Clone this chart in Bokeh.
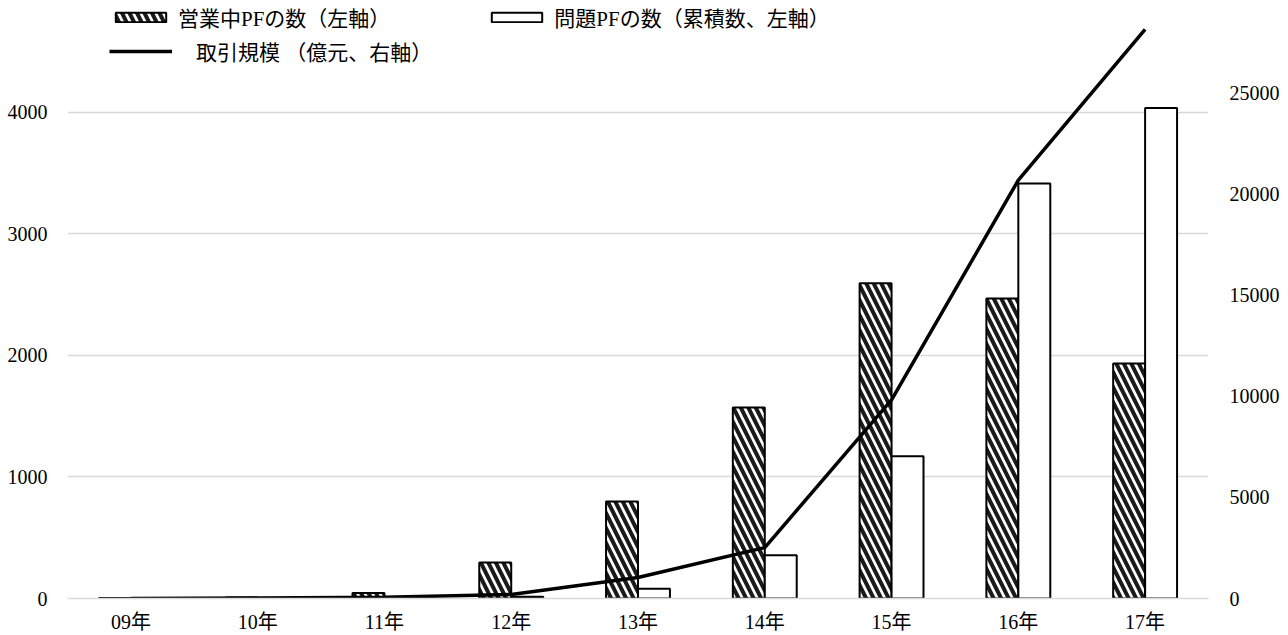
from bokeh.plotting import figure
from bokeh.models import (ColumnDataSource, FactorRange, Range1d, LinearAxis, FixedTicker,
                          Legend, LegendItem)
from bokeh.transform import dodge
from bokeh.embed import file_html
from bokeh.resources import INLINE

years = ["09年", "10年", "11年", "12年", "13年", "14年", "15年", "16年", "17年"]
active_pf = [5, 8, 45, 296, 798, 1572, 2593, 2469, 1934]
problem_pf = [0, 2, 10, 15, 80, 355, 1170, 3415, 4035]
volume = [0, 20, 60, 200, 1040, 2520, 9830, 20700, 28160]

left_ticks = [0, 1000, 2000, 3000, 4000]
right_ticks = [0, 5000, 10000, 15000, 20000, 25000]

FONT = "'Liberation Serif', 'Noto Sans CJK JP', serif"

src = ColumnDataSource(dict(year=years, active=active_pf, problem=problem_pf, vol=volume))

p = figure(width=1288, height=635, x_range=FactorRange(*years), y_range=Range1d(0, 4920),
           output_backend="svg", toolbar_location=None,
           min_border_left=67, min_border_right=80, min_border_top=0, min_border_bottom=36)
p.extra_y_ranges = {"right": Range1d(0, 29595)}
p.outline_line_color = None
p.background_fill_color = "white"
p.border_fill_color = "white"

p.xgrid.grid_line_color = None
p.ygrid.grid_line_color = "#d9d9d9"
p.ygrid.grid_line_width = 1.5
p.yaxis.ticker = FixedTicker(ticks=left_ticks)

r1 = p.vbar(x=dodge("year", -0.126, range=p.x_range), top="active", width=0.252, source=src,
            fill_color="white", line_color="black", line_width=2,
            hatch_pattern="\\", hatch_color="#1a1a1a", hatch_weight=4, hatch_scale=15)
r2 = p.vbar(x=dodge("year", 0.126, range=p.x_range), top="problem", width=0.252, source=src,
            fill_color="white", line_color="black", line_width=2)
r3 = p.line(x="year", y="vol", source=src, y_range_name="right", line_color="black", line_width=3.5)

rax = LinearAxis(y_range_name="right", ticker=FixedTicker(ticks=right_ticks))
p.add_layout(rax, "right")

for ax in [p.yaxis[0], rax]:
    ax.axis_line_color = None
    ax.major_tick_line_color = None
    ax.minor_tick_line_color = None
    ax.major_label_text_font = FONT
    ax.major_label_text_font_size = "20px"
    ax.major_label_text_color = "black"
    ax.major_label_standoff = 14
rax.major_label_standoff = 15

xa = p.xaxis[0]
xa.axis_line_color = "#d9d9d9"
xa.axis_line_width = 1.5
xa.major_tick_line_color = None
xa.minor_tick_line_color = None
xa.major_label_text_font = FONT
xa.major_label_text_font_size = "20px"
xa.major_label_text_color = "black"
xa.major_label_standoff = 6

leg1 = Legend(items=[LegendItem(label="営業中PFの数（左軸）", renderers=[r1]),
                     LegendItem(label="問題PFの数（累積数、左軸）", renderers=[r2])],
              orientation="horizontal", location=(42, 566), glyph_width=63, glyph_height=12,
              label_standoff=6, spacing=95, padding=0, margin=0,
              background_fill_alpha=0, border_line_color=None,
              label_text_font=FONT, label_text_font_size="21px", label_text_color="black")
leg2 = Legend(items=[LegendItem(label="取引規模 （億元、右軸）", renderers=[r3])],
              orientation="horizontal", location=(42, 532), glyph_width=63, glyph_height=12,
              label_standoff=24, padding=0, margin=0,
              background_fill_alpha=0, border_line_color=None,
              label_text_font=FONT, label_text_font_size="21px", label_text_color="black")
p.add_layout(leg1, "center")
p.add_layout(leg2, "center")

open("out.html", "w").write(file_html(p, INLINE))
